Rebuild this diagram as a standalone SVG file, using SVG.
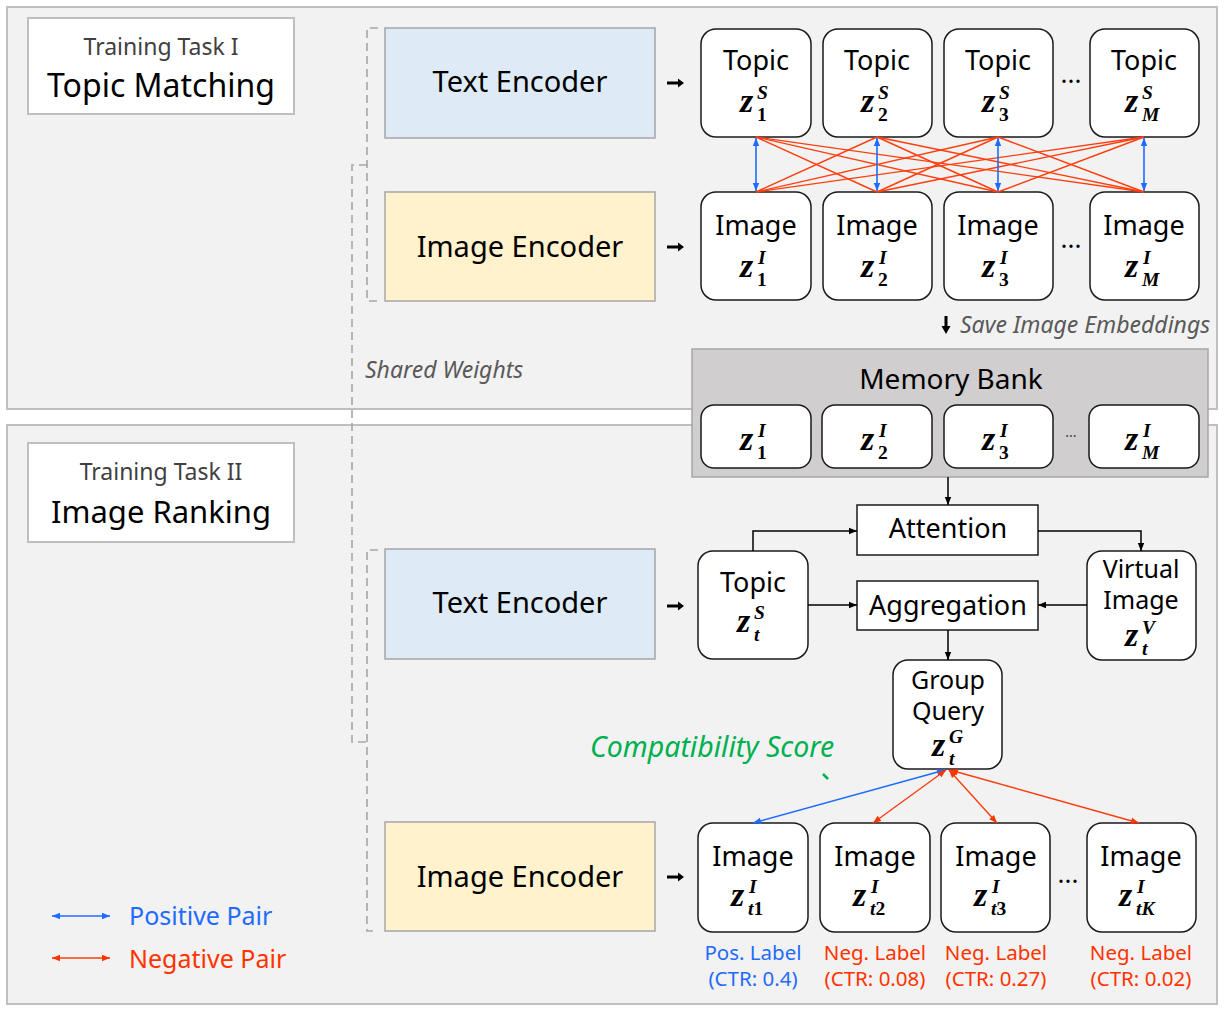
<svg xmlns="http://www.w3.org/2000/svg" width="1224" height="1012" viewBox="0 0 1224 1012">
<defs>
<style>
text{font-family:"Noto Sans","Open Sans","Liberation Sans",sans-serif;fill:#000}
.panel{fill:#f2f2f2;stroke:#bfbfbf;stroke-width:2}
.title{fill:#fff;stroke:#bfbfbf;stroke-width:2}
.te{fill:#deebf7;stroke:#a6a6a6;stroke-width:1.5}
.ie{fill:#fff2cc;stroke:#a6a6a6;stroke-width:1.5}
.node{fill:#fff;stroke:#1a1a1a;stroke-width:1.5}
.box{fill:#fff;stroke:#1a1a1a;stroke-width:1.5}
.enc{font-size:29px;text-anchor:middle}
.lbl{font-size:27px;text-anchor:middle}
.lbl2{font-size:25px;text-anchor:middle}
.m{font-family:"Liberation Serif","DejaVu Serif",serif;font-style:italic;font-size:34px;font-weight:bold}
.s{font-size:19.5px}
.up{font-style:normal}
.note{font-size:23px;font-style:italic;fill:#595959}
.dash{fill:none;stroke:#a6a6a6;stroke-width:1.6;stroke-dasharray:8 5}
.red{stroke:#ff3d0d;stroke-width:1.4;fill:none}
.blue{stroke:#1f6bff;stroke-width:1.6;fill:none}
.blk{stroke:#000;stroke-width:1.5;fill:none}
.pos{fill:#1f6bff}
.neg{fill:#ff3300}
.cl{font-size:20.5px;text-anchor:middle}
</style>
<marker id="ah" viewBox="0 0 10 10" refX="10" refY="5" markerWidth="8" markerHeight="8" markerUnits="userSpaceOnUse" orient="auto"><path d="M0,1 L10,5 L0,9 z" fill="#000"/></marker>
<marker id="ab" viewBox="0 0 10 10" refX="10" refY="5" markerWidth="9" markerHeight="8" markerUnits="userSpaceOnUse" orient="auto-start-reverse"><path d="M0,1 L10,5 L0,9 z" fill="#1f6bff"/></marker>
<marker id="ar" viewBox="0 0 10 10" refX="10" refY="5" markerWidth="9" markerHeight="8" markerUnits="userSpaceOnUse" orient="auto-start-reverse"><path d="M0,1 L10,5 L0,9 z" fill="#ff3300"/></marker>
</defs>
<rect width="1224" height="1012" fill="#fff"/>

<g id="panel-1">
<rect class="panel" x="7" y="7" width="1210" height="402"/>
<rect class="title" x="28" y="18" width="266" height="96"/>
<text x="161" y="55" text-anchor="middle" font-size="23" style="fill:#404040">Training Task I</text>
<text x="161" y="97" text-anchor="middle" font-size="32">Topic Matching</text>
</g>
<g id="panel-2">
<rect class="panel" x="7" y="425" width="1210" height="579"/>
<rect class="title" x="28" y="443" width="266" height="99"/>
<text x="161" y="480" text-anchor="middle" font-size="23" style="fill:#404040">Training Task II</text>
<text x="161" y="523" text-anchor="middle" font-size="31">Image Ranking</text>
</g>

<g id="shared-weights">
<path class="dash" d="M378,28 H367 V301 H378"/>
<path class="dash" d="M367,165 H352 V742 H367"/>
<path class="dash" d="M378,550 H367 V931 H378"/>
<text class="note" x="365" y="378" font-size="23.5">Shared Weights</text>
</g>

<g id="text-encoder-1"><rect class="te" x="385" y="28" width="270" height="110"/><text class="enc" x="520" y="92">Text Encoder</text></g>
<g id="image-encoder-1"><rect class="ie" x="385" y="192" width="270" height="109"/><text class="enc" x="520" y="257">Image Encoder</text></g>
<g id="text-encoder-2"><rect class="te" x="385" y="549" width="270" height="110"/><text class="enc" x="520" y="613">Text Encoder</text></g>
<g id="image-encoder-2"><rect class="ie" x="385" y="822" width="270" height="109"/><text class="enc" x="520" y="887">Image Encoder</text></g>

<g id="topic-1"><rect class="node" x="701" y="29" width="110" height="108" rx="15"/><text class="lbl" x="756" y="70">Topic</text><text class="m" x="740" y="112">z<tspan class="s" x="757" y="99">S</tspan><tspan class="s up" x="757" y="121">1</tspan></text></g>
<g id="topic-2"><rect class="node" x="823" y="29" width="109" height="108" rx="15"/><text class="lbl" x="877" y="70">Topic</text><text class="m" x="861" y="112">z<tspan class="s" x="878" y="99">S</tspan><tspan class="s up" x="878" y="121">2</tspan></text></g>
<g id="topic-3"><rect class="node" x="944" y="29" width="109" height="108" rx="15"/><text class="lbl" x="998" y="70">Topic</text><text class="m" x="982" y="112">z<tspan class="s" x="999" y="99">S</tspan><tspan class="s up" x="999" y="121">3</tspan></text></g>
<g id="topic-M"><rect class="node" x="1090" y="29" width="109" height="108" rx="15"/><text class="lbl" x="1144" y="70">Topic</text><text class="m" x="1125" y="112">z<tspan class="s" x="1142" y="99">S</tspan><tspan class="s" x="1142" y="121">M</tspan></text></g>

<g id="image-1"><rect class="node" x="701" y="192" width="110" height="108" rx="15"/><text class="lbl" x="756" y="235">Image</text><text class="m" x="740" y="277">z<tspan class="s" x="758" y="264">I</tspan><tspan class="s up" x="757" y="286">1</tspan></text></g>
<g id="image-2"><rect class="node" x="823" y="192" width="109" height="108" rx="15"/><text class="lbl" x="877" y="235">Image</text><text class="m" x="861" y="277">z<tspan class="s" x="879" y="264">I</tspan><tspan class="s up" x="878" y="286">2</tspan></text></g>
<g id="image-3"><rect class="node" x="944" y="192" width="109" height="108" rx="15"/><text class="lbl" x="998" y="235">Image</text><text class="m" x="982" y="277">z<tspan class="s" x="1000" y="264">I</tspan><tspan class="s up" x="999" y="286">3</tspan></text></g>
<g id="image-M"><rect class="node" x="1090" y="192" width="109" height="108" rx="15"/><text class="lbl" x="1144" y="235">Image</text><text class="m" x="1125" y="277">z<tspan class="s" x="1143" y="264">I</tspan><tspan class="s" x="1142" y="286">M</tspan></text></g>
<text x="1071" y="90" font-size="26" text-anchor="middle">···</text>
<text x="1071" y="255" font-size="26" text-anchor="middle">···</text>

<g id="save-note">
<polygon points="944.5,316 947.5,316 947.5,326 950.5,326 946,334 941.5,326 944.5,326" fill="#000"/>
<text class="note" x="960" y="333">Save Image Embeddings</text>
</g>

<g id="memory-bank">
<rect x="692" y="349" width="516" height="128" fill="#d0cece" stroke="#a6a6a6" stroke-width="1.5"/>
<text x="951" y="389" font-size="28" text-anchor="middle">Memory Bank</text>
<rect class="node" x="701" y="405" width="110" height="63" rx="13"/><text class="m" x="740" y="450">z<tspan class="s" x="758" y="437">I</tspan><tspan class="s up" x="757" y="459">1</tspan></text>
<rect class="node" x="822" y="405" width="110" height="63" rx="13"/><text class="m" x="861" y="450">z<tspan class="s" x="879" y="437">I</tspan><tspan class="s up" x="878" y="459">2</tspan></text>
<rect class="node" x="944" y="405" width="109" height="63" rx="13"/><text class="m" x="982" y="450">z<tspan class="s" x="1000" y="437">I</tspan><tspan class="s up" x="999" y="459">3</tspan></text>
<rect class="node" x="1089" y="405" width="110" height="63" rx="13"/><text class="m" x="1125" y="450">z<tspan class="s" x="1143" y="437">I</tspan><tspan class="s" x="1142" y="459">M</tspan></text>
<text x="1071" y="441" font-size="14" text-anchor="middle" style="fill:#404040">···</text>
</g>

<g id="attention"><rect class="box" x="857" y="505" width="181" height="50"/><text class="lbl" x="948" y="538">Attention</text></g>
<g id="aggregation"><rect class="box" x="857" y="581" width="181" height="49"/><text class="lbl" x="948" y="615">Aggregation</text></g>
<g id="topic-t"><rect class="node" x="698" y="551" width="110" height="108" rx="15"/><text class="lbl" x="753" y="592">Topic</text><text class="m" x="737" y="632">z<tspan class="s" x="754" y="619">S</tspan><tspan class="s" x="754" y="641">t</tspan></text></g>
<g id="virtual-image"><rect class="node" x="1087" y="551" width="109" height="109" rx="15"/><text class="lbl2" x="1141" y="578">Virtual</text><text class="lbl2" x="1141" y="609">Image</text><text class="m" x="1125" y="646">z<tspan class="s" x="1142" y="634">V</tspan><tspan class="s" x="1142" y="655">t</tspan></text></g>
<g id="group-query"><rect class="node" x="893" y="660" width="109" height="109" rx="15"/><text class="lbl2" x="948" y="689">Group</text><text class="lbl2" x="948" y="720">Query</text><text class="m" x="932" y="756">z<tspan class="s" x="949" y="743">G</tspan><tspan class="s" x="949" y="765">t</tspan></text></g>

<g id="image-t1"><rect class="node" x="698" y="823" width="110" height="109" rx="15"/><text class="lbl" x="753" y="866">Image</text><text class="m" x="731" y="906">z<tspan class="s" x="749" y="893">I</tspan><tspan class="s" x="748" y="915">t</tspan><tspan class="s up">1</tspan></text></g>
<g id="image-t2"><rect class="node" x="820" y="823" width="110" height="109" rx="15"/><text class="lbl" x="875" y="866">Image</text><text class="m" x="853" y="906">z<tspan class="s" x="871" y="893">I</tspan><tspan class="s" x="870" y="915">t</tspan><tspan class="s up">2</tspan></text></g>
<g id="image-t3"><rect class="node" x="941" y="823" width="109" height="109" rx="15"/><text class="lbl" x="996" y="866">Image</text><text class="m" x="974" y="906">z<tspan class="s" x="992" y="893">I</tspan><tspan class="s" x="991" y="915">t</tspan><tspan class="s up">3</tspan></text></g>
<g id="image-tK"><rect class="node" x="1087" y="823" width="109" height="109" rx="15"/><text class="lbl" x="1141" y="866">Image</text><text class="m" x="1119" y="906">z<tspan class="s" x="1137" y="893">I</tspan><tspan class="s" x="1136" y="915">tK</tspan></text></g>
<text x="1068" y="890" font-size="26" text-anchor="middle">···</text>

<g id="ctr-labels">
<text class="cl pos" x="753" y="960">Pos. Label</text><text class="cl pos" x="753" y="986">(CTR: 0.4)</text>
<text class="cl neg" x="875" y="960">Neg. Label</text><text class="cl neg" x="875" y="986">(CTR: 0.08)</text>
<text class="cl neg" x="996" y="960">Neg. Label</text><text class="cl neg" x="996" y="986">(CTR: 0.27)</text>
<text class="cl neg" x="1141" y="960">Neg. Label</text><text class="cl neg" x="1141" y="986">(CTR: 0.02)</text>
</g>

<g id="compat-label">
<text x="590" y="757" font-size="28.5" font-style="italic" style="fill:#00b050">Compatibility Score</text>
<line x1="823" y1="774" x2="828" y2="779" stroke="#00b050" stroke-width="2.5"/>
</g>

<g id="legend">
<line class="blue" x1="52" y1="916" x2="110" y2="916" marker-start="url(#ab)" marker-end="url(#ab)"/>
<text x="129" y="925" font-size="25" style="fill:#1f6bff">Positive Pair</text>
<line class="red" x1="52" y1="958" x2="110" y2="958" stroke-width="1.6" marker-start="url(#ar)" marker-end="url(#ar)"/>
<text x="129" y="968" font-size="25" style="fill:#ff3300">Negative Pair</text>
</g>

<g id="connectors">
<polygon points="667,81.5 678,81.5 678,78.5 684,83 678,87.5 678,84.5 667,84.5" fill="#000"/>
<polygon points="667,245.5 678,245.5 678,242.5 684,247 678,251.5 678,248.5 667,248.5" fill="#000"/>
<polygon points="667,604.5 678,604.5 678,601.5 684,606 678,610.5 678,607.5 667,607.5" fill="#000"/>
<polygon points="667,875.5 678,875.5 678,872.5 684,877 678,881.5 678,878.5 667,878.5" fill="#000"/>
<g class="red">
<line x1="756" y1="137" x2="877" y2="192"/><line x1="756" y1="137" x2="998" y2="192"/><line x1="756" y1="137" x2="1144" y2="192"/>
<line x1="877" y1="137" x2="756" y2="192"/><line x1="877" y1="137" x2="998" y2="192"/><line x1="877" y1="137" x2="1144" y2="192"/>
<line x1="998" y1="137" x2="756" y2="192"/><line x1="998" y1="137" x2="877" y2="192"/><line x1="998" y1="137" x2="1144" y2="192"/>
<line x1="1144" y1="137" x2="756" y2="192"/><line x1="1144" y1="137" x2="877" y2="192"/><line x1="1144" y1="137" x2="998" y2="192"/>
</g>
<line class="blue" x1="756" y1="138" x2="756" y2="191" marker-start="url(#ab)" marker-end="url(#ab)"/>
<line class="blue" x1="877" y1="138" x2="877" y2="191" marker-start="url(#ab)" marker-end="url(#ab)"/>
<line class="blue" x1="998" y1="138" x2="998" y2="191" marker-start="url(#ab)" marker-end="url(#ab)"/>
<line class="blue" x1="1144" y1="138" x2="1144" y2="191" marker-start="url(#ab)" marker-end="url(#ab)"/>
<line class="blk" x1="948" y1="477" x2="948" y2="505" marker-end="url(#ah)"/>
<path class="blk" d="M753,551 V531 H857" marker-end="url(#ah)"/>
<path class="blk" d="M1038,531 H1141 V551" marker-end="url(#ah)"/>
<line class="blk" x1="808" y1="605" x2="857" y2="605" marker-end="url(#ah)"/>
<line class="blk" x1="1087" y1="605" x2="1038" y2="605" marker-end="url(#ah)"/>
<line class="blk" x1="948" y1="630" x2="948" y2="660" marker-end="url(#ah)"/>
<line class="blue" x1="945" y1="770" x2="753" y2="823" marker-start="url(#ab)" marker-end="url(#ab)"/>
<line class="red" x1="946" y1="770" x2="873" y2="823" stroke-width="1.6" marker-start="url(#ar)" marker-end="url(#ar)"/>
<line class="red" x1="949" y1="770" x2="997" y2="823" stroke-width="1.6" marker-start="url(#ar)" marker-end="url(#ar)"/>
<line class="red" x1="950" y1="770" x2="1139" y2="823" stroke-width="1.6" marker-start="url(#ar)" marker-end="url(#ar)"/>
</g>
</svg>
